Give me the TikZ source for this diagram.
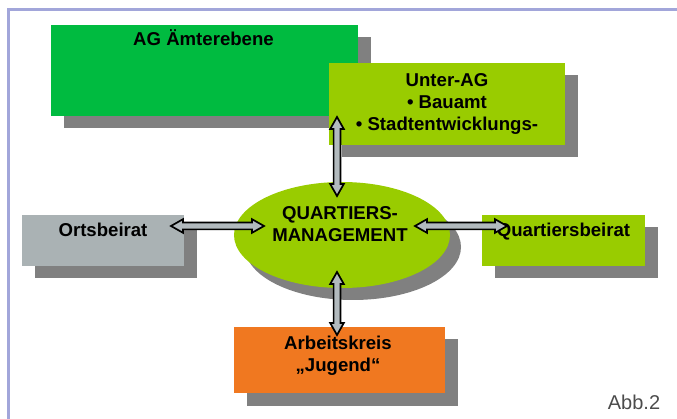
\documentclass[tikz,border=0pt]{standalone}
\usepackage{fontspec}
\setmainfont{Liberation Sans}
\usetikzlibrary{calc,shadows,shapes.geometric}

\definecolor{agruen}{HTML}{00BB40}
\definecolor{hgruen}{HTML}{99CC00}
\definecolor{ograu}{HTML}{AAB2B4}
\definecolor{akorange}{HTML}{F07820}
\definecolor{schatten}{HTML}{808080}
\definecolor{pfeil}{HTML}{B2BABE}
\definecolor{rahmen}{HTML}{A2A6DA}

\begin{document}
\begin{tikzpicture}[x=1pt, y=-1pt,
    gremium/.style ={rectangle, inner sep=0pt,
       drop shadow={shadow xshift=12.5pt, shadow yshift=-12.5pt, fill=schatten, opacity=1}},
    beschrift/.style ={align=center, inner sep=0pt, font=\fontsize{18.6}{22.3}\selectfont\bfseries},
    doppelpfeil/.style ={draw=black, line width=1.7pt, fill=pfeil, line join=miter,
       to path={let \p1=(\tikztostart), \p2=(\tikztotarget),
          \n1={veclen(\x2-\x1,\y2-\y1)}, \n2={atan2(\y2-\y1,\x2-\x1)} in
          {[shift={(\p1)}, rotate=\n2]
           (0pt,0pt) -- (12pt,6.8pt) -- (12pt,3.4pt) -- (\n1-12pt,3.4pt) -- (\n1-12pt,6.8pt)
           -- (\n1,0pt) -- (\n1-12pt,-6.8pt) -- (\n1-12pt,-3.4pt) -- (12pt,-3.4pt)
           -- (12pt,-6.8pt) -- cycle}}}]
   \useasboundingbox (0,0) rectangle (677,419);
   \draw[rahmen, line width=3pt] (8.3,419) -- (8.3,10) -- (677,10);

   \node[gremium, fill=agruen, minimum width=307pt, minimum height=91pt] (AG) at (204.5,70.5) {};
   \node[gremium, fill=hgruen, minimum width=236pt, minimum height=82pt] (UAG) at (447,104) {};
   \node[gremium, fill=ograu, minimum width=162pt, minimum height=51pt] (OB) at (103,240.5) {};
   \node[gremium, fill=hgruen, minimum width=163pt, minimum height=51pt] (QB) at (563.5,240.5) {};
   \node[gremium, fill=akorange, minimum width=211pt, minimum height=66pt] (AK) at (339.5,360) {};
   \node[ellipse, fill=hgruen, inner sep=0pt, minimum width=216pt, minimum height=106pt,
       drop shadow={shadow xshift=11pt, shadow yshift=-12pt, fill=schatten, opacity=1}] (QM) at (342,235) {};

   \node[beschrift, anchor=base] (AGt) at (203.5,46) {AG Ämterebene};
   \node[beschrift] (UAGt) at (447,104) {Unter-AG\\• Bauamt\\• Stadtentwicklungs-};
   \node[beschrift, anchor=base] (OBt) at (103,236.7) {Ortsbeirat};
   \node[beschrift, anchor=base] (QBt) at (563.5,236.7) {Quartiersbeirat};
   \node[beschrift] (QMt) at (340,224.2) {QUARTIERS-\\MANAGEMENT};
   \node[beschrift] (AKt) at (338,356) {Arbeitskreis\\„Jugend“};
   \node[anchor=base, inner sep=0pt, text=black!70, font=\fontsize{20}{24}\selectfont] (abb) at (634,409) {Abb.2};

   \coordinate (UAGs) at (337,117);
   \coordinate (QMn) at (337,196);
   \coordinate (QMs) at (337,272);
   \coordinate (AKn) at (337,335);
   \coordinate (OBe) at (171,226);
   \coordinate (QMw) at (264,226);
   \coordinate (QMe) at (415,226);
   \coordinate (QBw) at (507,226);

   \path[doppelpfeil] (UAGs) to (QMn);
   \path[doppelpfeil] (QMs) to (AKn);
   \path[doppelpfeil] (OBe) to (QMw);
   \path[doppelpfeil] (QMe) to (QBw);
\end{tikzpicture}
\end{document}
